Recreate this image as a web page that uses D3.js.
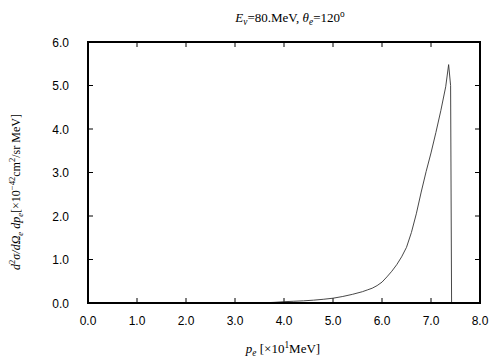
<!DOCTYPE html>
<html><head><meta charset="utf-8">
<script src="https://cdn.jsdelivr.net/npm/d3@7"></script>
<style>body{margin:0;background:#fff}svg{display:block}</style>
</head><body>
<svg id="c" width="504" height="360"></svg>
<script>
const xTicks = [0,1,2,3,4,5,6,7,8];
const yTicks = [0,1,2,3,4,5,6];
const pe = [3.5,3.6,3.8,4.0,4.2,4.4,4.6,4.8,5.0,5.2,5.4,5.6,5.7,5.8,5.9,6.0,6.1,6.2,6.3,6.4,6.5,6.6,6.7,6.8,6.9,7.0,7.1,7.2,7.3,7.36,7.40,7.42];
const xsec = [0.0,0.005,0.015,0.03,0.04,0.05,0.065,0.085,0.11,0.15,0.20,0.26,0.30,0.34,0.40,0.48,0.60,0.73,0.88,1.06,1.28,1.62,2.05,2.55,3.02,3.45,3.92,4.42,4.97,5.48,5.0,0.0];

const svg = d3.select("#c");
const L=88, R=480, T=42, B=303;
const x = d3.scaleLinear().domain([0,8]).range([L,R]);
const y = d3.scaleLinear().domain([0,6]).range([B,T]);

const tk = 5;
const g = svg.append("g");
xTicks.slice(1,-1).forEach(v=>{
  g.append("line").attr("x1",x(v)).attr("x2",x(v)).attr("y1",B).attr("y2",B-tk).attr("stroke","#000");
  g.append("line").attr("x1",x(v)).attr("x2",x(v)).attr("y1",T).attr("y2",T+tk).attr("stroke","#000");
});
yTicks.slice(1,-1).forEach(v=>{
  g.append("line").attr("y1",y(v)).attr("y2",y(v)).attr("x1",L).attr("x2",L+tk).attr("stroke","#000");
  g.append("line").attr("y1",y(v)).attr("y2",y(v)).attr("x1",R).attr("x2",R-tk).attr("stroke","#000");
});
xTicks.forEach(v=>{
  g.append("text").attr("x",x(v)).attr("y",B+22).attr("text-anchor","middle")
   .attr("font-family","Liberation Sans, Arial, sans-serif").attr("font-size",12).text(v.toFixed(1));
});
yTicks.forEach(v=>{
  g.append("text").attr("x",L-19).attr("y",y(v)+4.5).attr("text-anchor","end")
   .attr("font-family","Liberation Sans, Arial, sans-serif").attr("font-size",12).text(v.toFixed(1));
});

const line = d3.line().x((d,i)=>x(pe[i])).y((d,i)=>y(xsec[i]));
svg.append("path").datum(xsec).attr("d",line).attr("fill","none").attr("stroke","#333").attr("stroke-width",0.9);

svg.append("rect").attr("x",L).attr("y",T).attr("width",R-L).attr("height",B-T)
  .attr("fill","none").attr("stroke","#000").attr("stroke-width",2);

function rich(parent, segs, size){
  let shift=0;
  segs.forEach(s=>{
    const ts = parent.append("tspan").text(s.t);
    let target = s.sup ? -size*0.4 : s.sub ? size*0.25 : 0;
    if (target!==shift){ ts.attr("dy", target-shift); shift=target; }
    ts.attr("font-size", (s.sup||s.sub)? size*0.72 : size);
    if (s.i) ts.attr("font-style","italic");
  });
}
const serif = "Liberation Serif, Times New Roman, serif";
const title = svg.append("text").attr("x",290).attr("y",22).attr("text-anchor","middle").attr("font-family",serif).attr("font-size",13);
rich(title, [{t:"E",i:1},{t:"ν",sub:1,i:1},{t:"=80.MeV,  "},{t:"θ",i:1},{t:"e",sub:1,i:1},{t:"=120"},{t:"o",sup:1}], 13);

const xl = svg.append("text").attr("x",283).attr("y",353).attr("text-anchor","middle").attr("font-family",serif).attr("font-size",13);
rich(xl, [{t:"p",i:1},{t:"e",sub:1,i:1},{t:" [×10"},{t:"1",sup:1},{t:"MeV]"}], 13);

const yl = svg.append("text").attr("transform","translate(20,192) rotate(-90)").attr("text-anchor","middle").attr("font-family",serif).attr("font-size",12);
rich(yl, [{t:"d",i:1},{t:"2",sup:1},{t:"σ/",i:1},{t:"d",i:1},{t:"Ω",i:1},{t:"e",sub:1,i:1},{t:" dp",i:1},{t:"e",sub:1,i:1},{t:"[×10"},{t:"−42",sup:1},{t:"cm"},{t:"2",sup:1},{t:"/sr MeV]"}], 12);
</script>
</body></html>
